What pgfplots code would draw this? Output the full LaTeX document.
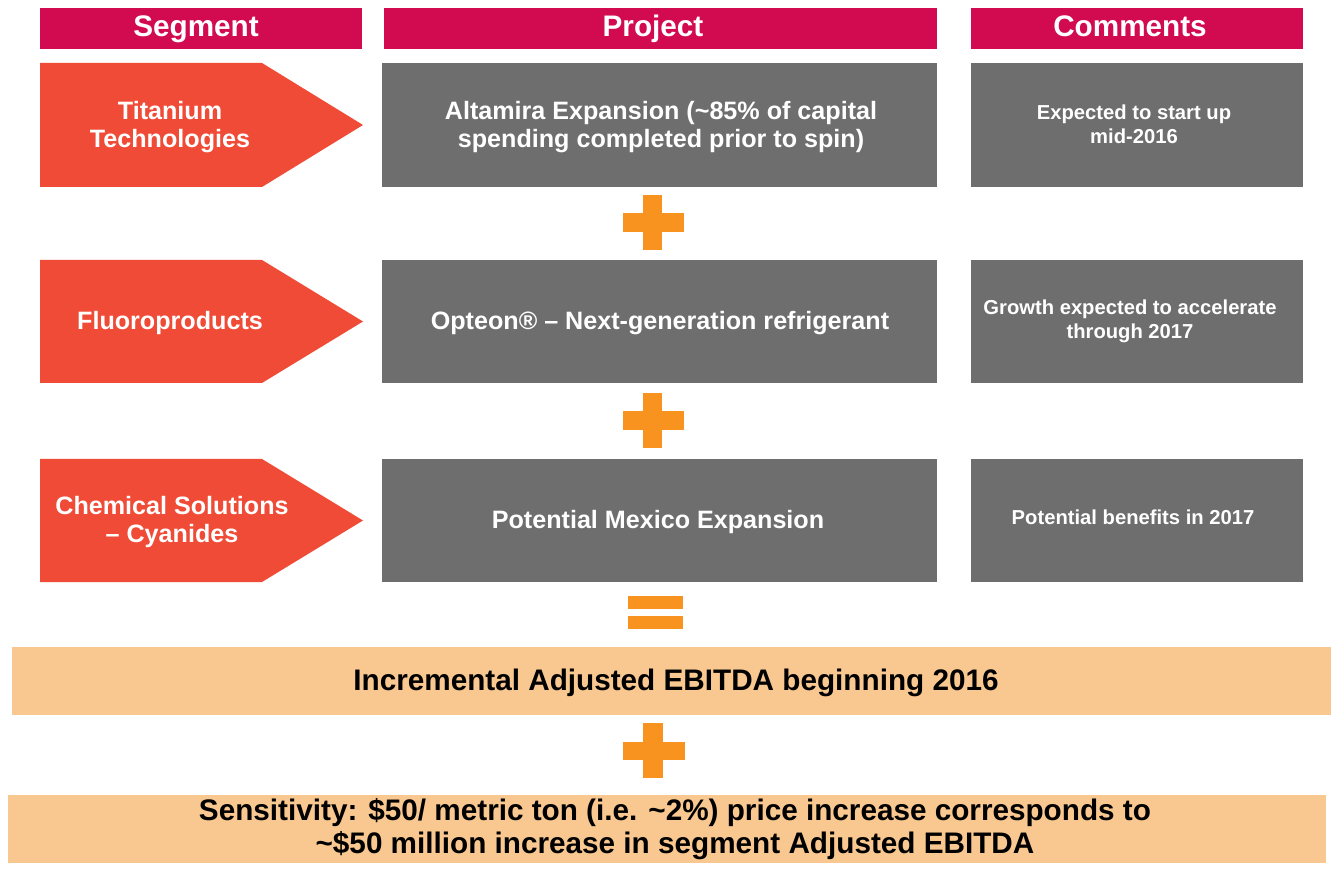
\documentclass[border=0pt]{standalone}
\usepackage{pgfplots}
\pgfplotsset{compat=1.18}
\usepackage{fontspec}
\setmainfont{Liberation Sans}
\definecolor{hdr}{HTML}{D20A50}
\definecolor{seg}{HTML}{F04B37}
\definecolor{box}{HTML}{6E6E6E}
\definecolor{plus}{HTML}{F7931E}
\definecolor{band}{HTML}{F9C890}
\newcommand{\rect}[5]{\addplot[fill=#1,draw=none] coordinates {(#2,#3) (#4,#3) (#4,#5) (#2,#5)} -- cycle;}
\newcommand{\arrowshape}[2]{\addplot[fill=seg,draw=none] coordinates {(40,#1) (262,#1) (363,{(#1+#2)/2}) (262,#2) (40,#2)} -- cycle;}
\newcommand{\fs}[2]{\bfseries\fontsize{#1}{#2}\selectfont}
\begin{document}
\begin{tikzpicture}
\begin{axis}[width=13.31cm,height=8.63cm,scale only axis,xmin=0,xmax=1331,ymin=0,ymax=863,y dir=reverse,hide axis,clip=false]
\rect{white}{0}{0}{1331}{863}
% headers
\rect{hdr}{40}{8}{362}{49}
\rect{hdr}{384}{8}{937}{49}
\rect{hdr}{971}{8}{1303}{49}
\node[anchor=base,text=white,font=\fs{8.45}{10}] at (196,37) {Segment};
\node[anchor=base,text=white,font=\fs{8.45}{10}] at (653,37) {Project};
\node[anchor=base,text=white,font=\fs{8.45}{10}] at (1130,37) {Comments};
% rows
\arrowshape{63}{187}
\arrowshape{260}{383}
\arrowshape{459}{582}
\rect{box}{382}{63}{937}{187}
\rect{box}{382}{260}{937}{383}
\rect{box}{382}{459}{937}{582}
\rect{box}{971}{63}{1303}{187}
\rect{box}{971}{260}{1303}{383}
\rect{box}{971}{459}{1303}{582}
\node[text=white,align=center,font=\fs{7.15}{7.8}] at (170,127) {Titanium\\Technologies};
\node[anchor=base,text=white,font=\fs{7.15}{7.8}] at (170,330) {Fluoroproducts};
\node[text=white,align=center,font=\fs{7.15}{7.8}] at (172,522) {Chemical Solutions\\– Cyanides};
\node[text=white,align=center,font=\fs{7.15}{7.8}] at (661,127) {Altamira Expansion (\textasciitilde85\% of capital\\spending completed prior to spin)};
\node[anchor=base,text=white,font=\fs{7.15}{7.8}] at (660,330) {Opteon® – Next-generation refrigerant};
\node[anchor=base,text=white,font=\fs{7.15}{7.8}] at (658,529) {Potential Mexico Expansion};
\node[text=white,align=center,font=\fs{5.75}{6.8}] at (1134,124) {Expected to start up\\mid-2016};
\node[text=white,align=center,font=\fs{5.75}{6.8}] at (1130,321) {Growth expected to accelerate\\through 2017};
\node[anchor=base,text=white,font=\fs{5.75}{6.8}] at (1133,524) {Potential benefits in 2017};
% plus signs
\rect{plus}{623}{213}{684}{232}
\rect{plus}{643}{195}{662}{250}
\rect{plus}{623}{411}{684}{430}
\rect{plus}{643}{393}{662}{448}
\rect{plus}{623}{742}{685}{760}
\rect{plus}{643}{723}{663}{778}
% equals
\rect{plus}{628}{596}{683}{609}
\rect{plus}{628}{616}{683}{629}
% bands
\rect{band}{12}{647}{1331}{715}
\rect{band}{8}{795}{1326}{863}
\node[anchor=base,text=black,font=\fs{8.45}{10}] at (676,690) {Incremental Adjusted EBITDA beginning 2016};
\node[text=black,align=center,font=\fs{8.45}{9.4}] at (675,829) {Sensitivity: \$50/ metric ton (i.e. \textasciitilde2\%) price increase corresponds to\\\textasciitilde\$50 million increase in segment Adjusted EBITDA};
\end{axis}
\end{tikzpicture}
\end{document}
